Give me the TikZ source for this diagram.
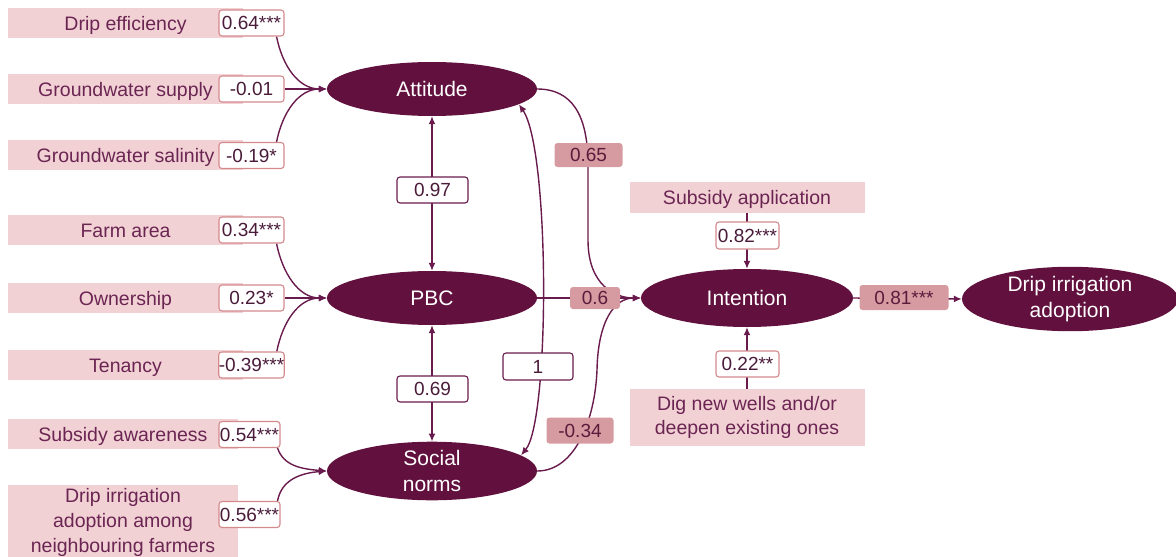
\documentclass[tikz,border=0pt]{standalone}
\usepackage{fontspec}
\setmainfont{Liberation Sans}
\usetikzlibrary{arrows.meta,shapes.geometric,backgrounds}
\definecolor{latfill}{HTML}{62113F}
\definecolor{linecol}{HTML}{6A1B4D}
\definecolor{pinkbox}{HTML}{F2D1D5}
\definecolor{pinklab}{HTML}{D59BA0}
\definecolor{coefline}{HTML}{D4898C}
\definecolor{srctext}{HTML}{6B2552}
\definecolor{coeftext}{HTML}{4A1C3A}
\definecolor{labtext}{HTML}{5C1A3C}
\tikzset{
  srcbox/.style={rectangle, fill=pinkbox, text=srctext, inner sep=0pt, minimum height=30pt, font=\fontsize{19.5}{25}\selectfont, align=center},
  coefbox/.style={rectangle, rounded corners=3pt, draw=coefline, line width=1.1pt, fill=white, text=coeftext, inner sep=0pt, minimum width=65pt, minimum height=26pt, font=\fontsize{19}{22}\selectfont, text height=13.6pt, text depth=0pt},
  corrbox/.style={coefbox, draw=linecol},
  pathlab/.style={rectangle, rounded corners=3pt, fill=pinklab, text=labtext, inner sep=0pt, minimum height=25pt, font=\fontsize{19}{22}\selectfont, text height=13.6pt, text depth=0pt},
  latent/.style={ellipse, fill=latfill, text=white, inner sep=0pt, font=\fontsize{21}{26}\selectfont, align=center},
  oneline/.style={text height=14pt, text depth=0pt},
  onelinebig/.style={text height=15pt, text depth=0pt},
  conn/.style={draw=linecol, line width=1.4pt, -{Latex[length=8pt,width=7pt]}},
  biconn/.style={draw=linecol, line width=1.4pt, {Latex[length=8pt,width=7pt]}-{Latex[length=8pt,width=7pt]}},
}
\begin{document}
\begin{tikzpicture}[x=1pt,y=-1pt]
\useasboundingbox (0,0) rectangle (1176,557);
% source boxes
\node[srcbox, oneline, minimum width=235pt] (s1) at (125.5,23) {Drip efficiency};
\node[srcbox, oneline, minimum width=235pt] (s2) at (125.5,89) {Groundwater supply};
\node[srcbox, oneline, minimum width=235pt] (s3) at (125.5,155) {Groundwater salinity};
\node[srcbox, oneline, minimum width=235pt] (s4) at (125.5,230) {Farm area};
\node[srcbox, oneline, minimum width=235pt] (s5) at (125.5,298) {Ownership};
\node[srcbox, oneline, minimum width=235pt] (s6) at (125.5,365) {Tenancy};
\node[srcbox, oneline, minimum width=230pt] (s7) at (123,434) {Subsidy awareness};
\node[srcbox, minimum width=230pt, minimum height=74pt] (s8) at (123,522) {Drip irrigation\\adoption among\\neighbouring farmers};
% coefficient boxes
\node[coefbox] (c1) at (251.5,23) {0.64***};
\node[coefbox] (c2) at (251.5,89) {-0.01};
\node[coefbox] (c3) at (251.5,155.5) {-0.19*};
\node[coefbox] (c4) at (251.5,230) {0.34***};
\node[coefbox] (c5) at (251.5,298) {0.23*};
\node[coefbox] (c6) at (251.5,365) {-0.39***};
\node[coefbox, minimum width=61pt] (c7) at (249.5,434.5) {0.54***};
\node[coefbox, minimum width=61pt] (c8) at (249.5,514.5) {0.56***};
% latent variables
\node[latent, onelinebig, minimum width=210pt, minimum height=54pt] (att) at (432,89) {Attitude};
\node[latent, onelinebig, minimum width=210pt, minimum height=54pt] (pbc) at (432,298) {PBC};
\node[latent, minimum width=210pt, minimum height=57pt] (soc) at (432,471) {Social\\norms};
\node[latent, onelinebig, minimum width=212pt, minimum height=58pt] (int) at (747,298) {Intention};
\node[latent, minimum width=216pt, minimum height=59pt] (adopt) at (1070,299) {Drip irrigation\\adoption};
% right source boxes
\node[srcbox, oneline, minimum width=235pt, minimum height=31pt] (sub) at (747,197.5) {Subsidy application};
\node[srcbox, minimum width=235pt, minimum height=57pt, font=\fontsize{19.5}{24}\selectfont] (dig) at (747,417.5) {Dig new wells and/or\\deepen existing ones};
% path labels
\node[corrbox, minimum width=71pt] (l097) at (432.5,190) {0.97};
\node[corrbox, minimum width=71pt] (l069) at (432.5,389) {0.69};
\node[corrbox, minimum width=70pt, minimum height=27pt] (l1) at (538,366.5) {1};
\node[pathlab, minimum width=68pt, minimum height=24pt] (l065) at (588.5,155) {0.65};
\node[pathlab, minimum width=50pt, minimum height=22pt] (l06) at (595,298) {0.6};
\node[pathlab, minimum width=67pt, minimum height=26pt] (l034) at (580,430.5) {-0.34};
\node[pathlab, minimum width=89pt] (l081) at (904,297.5) {0.81***};
\node[coefbox, minimum width=63pt, minimum height=27pt] (l082) at (747.5,235.5) {0.82***};
\node[coefbox, minimum width=63pt] (l022) at (747.5,364) {0.22**};
% connectors
\begin{pgfonlayer}{background}
\draw[conn] ([xshift=-8pt]c1.south east) .. controls +(6,30) and +(-28,0) .. (att.west);
\draw[conn] (c2.east) -- (att.west);
\draw[conn] ([xshift=-8pt]c3.north east) .. controls +(6,-30) and +(-28,0) .. (att.west);
\draw[conn] ([xshift=-8pt]c4.south east) .. controls +(6,30) and +(-28,0) .. (pbc.west);
\draw[conn] (c5.east) -- (pbc.west);
\draw[conn] ([xshift=-8pt]c6.north east) .. controls +(6,-30) and +(-28,0) .. (pbc.west);
\draw[conn] ([xshift=-3pt]c7.south east) .. controls +(6,18) and +(-25,-2) .. (soc.west);
\draw[conn] ([xshift=-3pt]c8.north east) .. controls +(4,-22) and +(-25,2) .. (soc.west);
\draw[biconn] (att.south) -- (pbc.north);
\draw[biconn] (pbc.south) -- (soc.north);
\draw[biconn] (att.-10) .. controls (550,150) and (550,420) .. (soc.10);
\draw[conn] (att.east) .. controls (572,89) and (588,115) .. (588,165) -- (588,240) .. controls (588,285) and (615,298) .. (int.west);
\draw[conn] (pbc.east) -- (int.west);
\draw[conn] (soc.east) .. controls (575,471) and (595,420) .. (597,370) .. controls (598,320) and (615,298) .. (int.west);
\draw[conn] (sub.south) -- (int.north);
\draw[conn] (dig.north) -- (int.south);
\draw[conn] (int.east) -- (adopt.west);
\end{pgfonlayer}
\end{tikzpicture}
\end{document}
